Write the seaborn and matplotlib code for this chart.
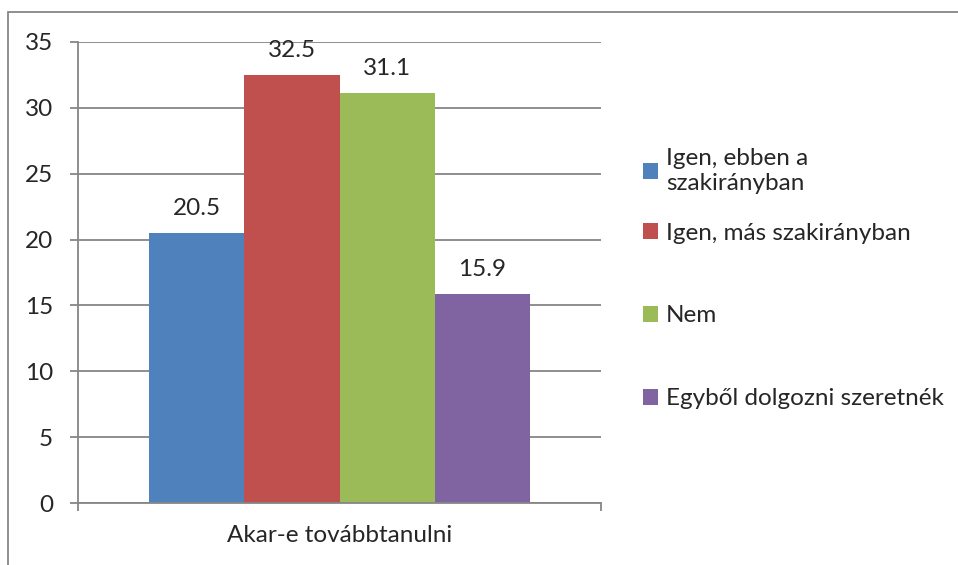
import matplotlib
matplotlib.use('Agg')
import matplotlib.pyplot as plt
import seaborn as sns
import pandas as pd

# data
category = ['Akar-e továbbtanulni']
series = ['Igen, ebben a\nszakirányban', 'Igen, más szakirányban', 'Nem',
          'Egyből dolgozni szeretnék']
values = [20.5, 32.5, 31.1, 15.9]
colors = ['#4F81BD', '#C0504D', '#9BBB59', '#8064A2']
y_ticks = [0, 5, 10, 15, 20, 25, 30, 35]

df = pd.DataFrame({
    'kategoria': category * len(series),
    'valasz': series,
    'szazalek': values,
})

sns.set_style('white')
plt.rcParams['font.family'] = ['Lato', 'DejaVu Sans']
grey = '#868686'
fs = 17.5

fig = plt.figure(figsize=(9.58, 5.65), dpi=100)
ax = fig.add_axes([78 / 958, 1 - 503 / 565, (601 - 78) / 958, (503 - 42) / 565])

sns.barplot(data=df, x='kategoria', y='szazalek', hue='valasz',
            palette=colors, width=0.727, gap=0, saturation=1,
            linewidth=0, ax=ax)

for c in ax.containers:
    ax.bar_label(c, fmt='%.1f', padding=10, fontsize=fs)

ax.set_xlim(-0.5, 0.5)
ax.set_ylim(0, 35)
ax.set_yticks(y_ticks)
ax.set_xlabel('')
ax.set_ylabel('')
ax.set_axisbelow(True)
ax.yaxis.grid(True, color=grey, lw=1.3)

# axis styling, Excel look
for s in ['top', 'right']:
    ax.spines[s].set_visible(False)
for s in ['left', 'bottom']:
    ax.spines[s].set_color(grey)
    ax.spines[s].set_linewidth(1.3)
ax.tick_params(axis='y', length=6, width=1.3, color=grey, pad=12,
               labelsize=fs, direction='out', left=True)
ax.tick_params(axis='x', which='major', length=0, pad=16, labelsize=fs)
ax.set_xticks([-0.5, 0.5], minor=True)
ax.tick_params(axis='x', which='minor', length=6, width=1.3, color=grey,
               direction='out', bottom=True)

# legend in two parts so the gaps follow the original
handles, labels = ax.get_legend_handles_labels()
leg_kw = dict(loc='center left', bbox_transform=fig.transFigure,
              frameon=False, fontsize=fs, handlelength=0.6,
              handleheight=0.6, handletextpad=0.35, borderpad=0,
              borderaxespad=0)
leg1 = ax.legend(handles[:1], labels[:1],
                 bbox_to_anchor=(643 / 958, 1 - 171 / 565), **leg_kw)
ax.add_artist(leg1)
ax.legend(handles[1:], labels[1:], bbox_to_anchor=(643 / 958, 1 - 316 / 565),
          labelspacing=2.55, **leg_kw)

# outer chart border (cropped in the original)
fig.add_artist(plt.Rectangle((8 / 958, -0.2), 1.5, 1.2 - 12 / 565,
                             transform=fig.transFigure, fill=False,
                             edgecolor=grey, lw=1.3, clip_on=False))

fig.savefig('out.png', dpi=100)
